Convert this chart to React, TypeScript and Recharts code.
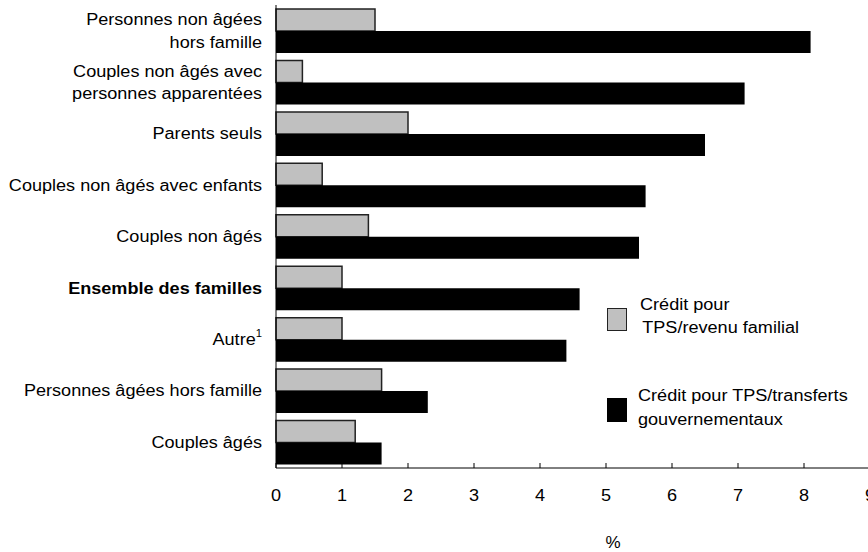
import { Bar, BarChart, Legend, XAxis, YAxis } from 'recharts';

const categories = [
  'Personnes non âgées\nhors famille',
  'Couples non âgés avec\npersonnes apparentées',
  'Parents seuls',
  'Couples non âgés avec enfants',
  'Couples non âgés',
  'Ensemble des familles',
  'Autre',
  'Personnes âgées hors famille',
  'Couples âgés',
];
const gstIncome = [1.5, 0.4, 2.0, 0.7, 1.4, 1.0, 1.0, 1.6, 1.2];
const gstTransfers = [8.1, 7.1, 6.5, 5.6, 5.5, 4.6, 4.4, 2.3, 1.6];
const xTicks = [0, 1, 2, 3, 4, 5, 6, 7, 8, 9];
const boldCategories = ['Ensemble des familles'];
const footnoted = ['Autre'];

const FONT = '"Liberation Sans", Arial, sans-serif';
const FS = 16;
// the source text is drawn a bit wider than plain Arial
const STRETCH = 1.13;

const data = categories.map((name, i) => ({
  name,
  income: gstIncome[i],
  transfers: gstTransfers[i],
}));

function CategoryTick({ x, y, payload }: any) {
  const lines = String(payload.value).split('\n');
  const lineH = 22.5;
  const bold = boldCategories.includes(payload.value);
  return (
    <g transform={`translate(${x},${y}) scale(${STRETCH},1)`}>
      <text
        x={0}
        y={0}
        textAnchor="end"
        fontFamily={FONT}
        fontSize={FS}
        fontWeight={bold ? 'bold' : 'normal'}
        fill="#000"
      >
        {lines.map((line, i) => (
          <tspan key={i} x={0} y={-((lines.length - 1) / 2) * lineH + i * lineH} dy="0.35em">
            {line}
            {footnoted.includes(line) && (
              <tspan fontSize={10} dy="-0.8em">
                1
              </tspan>
            )}
          </tspan>
        ))}
      </text>
    </g>
  );
}

function ValueTick({ x, y, payload }: any) {
  return (
    <g>
      <line x1={x} y1={y} x2={x} y2={y - 5} stroke="#000" />
      <g transform={`translate(${x},${y + 33}) scale(${STRETCH},1)`}>
        <text x={0} y={0} textAnchor="middle" fontFamily={FONT} fontSize={FS} fill="#000">
          {payload.value}
        </text>
      </g>
    </g>
  );
}

const legendText = { transform: `scaleX(${STRETCH})`, transformOrigin: 'left center' } as const;

const renderLegend = () => (
  <div style={{ position: 'relative', width: 262, height: 150, fontFamily: FONT, fontSize: FS, color: '#000' }}>
    <div
      style={{
        position: 'absolute', left: 7, top: 18, width: 20, height: 23,
        background: '#c0c0c0', border: '1.5px solid #222', boxSizing: 'border-box',
      }}
    />
    <div style={{ position: 'absolute', left: 40, top: 3, lineHeight: '23px', whiteSpace: 'nowrap' }}>
      <div style={legendText}>Crédit pour</div>
      <div style={{ ...legendText, paddingLeft: 2 }}>TPS/revenu familial</div>
    </div>
    <div
      style={{
        position: 'absolute', left: 7, top: 108, width: 20, height: 24, background: '#000',
      }}
    />
    <div style={{ position: 'absolute', left: 38, top: 94, lineHeight: '24px', whiteSpace: 'nowrap' }}>
      <div style={legendText}>Crédit pour TPS/transferts</div>
      <div style={legendText}>gouvernementaux</div>
    </div>
  </div>
);

export default function App() {
  return (
    <div
      style={{
        position: 'absolute', left: 0, top: 0, width: 868, height: 552,
        overflow: 'hidden', background: '#fff',
      }}
    >
      <BarChart
        width={900}
        height={552}
        data={data}
        layout="vertical"
        margin={{ top: 5, right: 30, left: 0, bottom: 0 }}
        barGap={0}
        barSize={22}
      >
        <XAxis
          type="number"
          domain={[0, 9]}
          ticks={xTicks}
          interval={0}
          height={84}
          tickSize={0}
          tickMargin={0}
          tickLine={false}
          axisLine={{ stroke: '#000' }}
          tick={<ValueTick />}
          label={{ value: '%', position: 'insideBottom', offset: 4, dx: 40, fontFamily: FONT, fontSize: 17, fill: '#000' }}
        />
        <XAxis
          xAxisId="top"
          orientation="top"
          type="number"
          domain={[0, 9]}
          height={0}
          tick={false}
          tickLine={false}
          axisLine={{ stroke: '#000' }}
        />
        <YAxis
          type="category"
          dataKey="name"
          width={276}
          tickSize={0}
          tickMargin={14}
          tickLine={false}
          axisLine={{ stroke: '#000' }}
          interval={0}
          tick={<CategoryTick />}
        />
        <Legend
          layout="horizontal"
          verticalAlign="middle"
          align="center"
          content={renderLegend}
          wrapperStyle={{ left: 600, top: 290, width: 262 }}
        />
        <Bar dataKey="income" fill="#c0c0c0" stroke="#222" strokeWidth={1.5} isAnimationActive={false} />
        <Bar dataKey="transfers" fill="#000" isAnimationActive={false} />
      </BarChart>
    </div>
  );
}
